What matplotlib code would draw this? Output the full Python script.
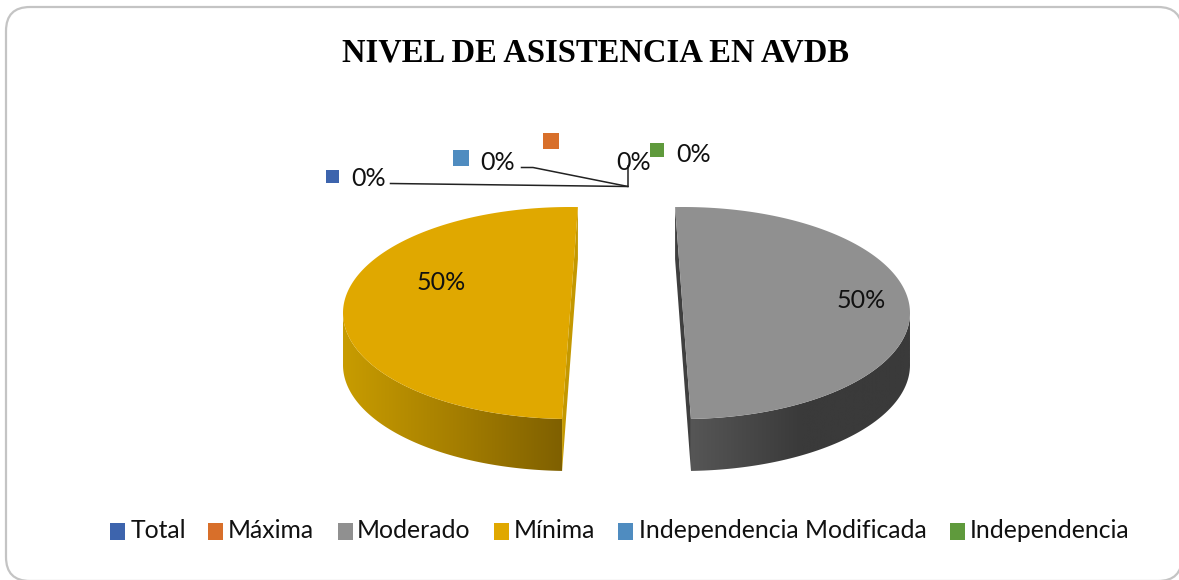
import matplotlib
matplotlib.use('Agg')
import matplotlib.pyplot as plt
import numpy as np
from matplotlib.colors import LinearSegmentedColormap
from matplotlib.patches import FancyBboxPatch, Polygon, Rectangle

title = 'NIVEL DE ASISTENCIA EN AVDB'
categories = ['Total', 'Máxima', 'Moderado', 'Mínima', 'Independencia Modificada', 'Independencia']
values = [0, 0, 50, 50, 0, 0]
colors = ['#3d64ad', '#d86f2a', '#909090', '#e0a800', '#4f8cc0', '#5f9a3c']

# wall shading per slice, left to right
wall_shades = {'Moderado': ['#565656', '#3a3a3a', '#3a3a3a'], 'Mínima': ['#c89c00', '#a67f00', '#7f6000']}
cut_colors = {'Moderado': '#3f3f3f', 'Mínima': '#c49800'}
# the exploded slices lean away from each other a little
lean = {'Moderado': -2, 'Mínima': 2}

# layout in reference pixels
legend_keys = [110, 208, 338, 494, 618, 950]
legend_texts = [131, 228, 357, 514, 639, 970]
zero_keys = {'Total': (332, 176, 13), 'Independencia Modificada': (461, 158, 16),
             'Máxima': (551, 141, 16), 'Independencia': (657, 150, 14)}
zero_labels = {'Total': (369, 178), 'Independencia Modificada': (498, 162),
               'Máxima': (634, 162), 'Independencia': (694, 154)}
big_labels = {'Moderado': (861, 301), 'Mínima': (441, 283)}
big_keys = {'Moderado': (818, 298), 'Mínima': (397, 282)}

cx, cy = 626.5, 313
a, b = 227, 106
depth = 52
explode = 56.5

fig = plt.figure(figsize=(11.79, 5.8), dpi=100)
ax = fig.add_axes([0, 0, 1, 1])
ax.axis('off')

frame = FancyBboxPatch((6, 7), 1176, 574, boxstyle='round,pad=0,rounding_size=24',
                       fc='white', ec='#c4c4c4', lw=1.6, zorder=0)
ax.add_patch(frame)

ax.text(596, 53, title, family='Liberation Serif', weight='bold', fontsize=23.5,
        ha='center', va='center', color='black')

# pie slices from the values
total = sum(values)
angle = 0
for name, val, col in zip(categories, values, colors):
    sweep = 360 * val / total
    if val == 0:
        angle += sweep
        continue
    t0, t1 = angle + lean[name], angle + sweep + lean[name]
    mid = np.radians(angle + sweep / 2)
    angle += sweep
    ox = cx + explode * np.sin(mid)
    oy = cy - explode * b / a * np.cos(mid)
    t = np.radians(np.linspace(t0, t1, 200))
    rx = ox + a * np.sin(t)
    ry = oy - b * np.cos(t)

    # outer wall, only the front part of the rim
    front = np.cos(t) <= 0.02
    wall = np.vstack([np.column_stack([rx[front], ry[front]]),
                      np.column_stack([rx[front], ry[front] + depth])[::-1]])
    clip = Polygon(wall, closed=True, fc='none', ec='none', transform=ax.transData)
    ax.add_patch(clip)
    cmap = LinearSegmentedColormap.from_list(name, wall_shades[name])
    im = ax.imshow(np.linspace(0, 1, 256).reshape(1, -1), cmap=cmap, aspect='auto',
                   extent=(wall[:, 0].min(), wall[:, 0].max(), 480, 300), zorder=2)
    im.set_clip_path(clip)

    # cut face seen through the gap
    p0 = (rx[0], ry[0]) if name == 'Moderado' else (rx[-1], ry[-1])
    p1 = (rx[-1], ry[-1]) if name == 'Moderado' else (rx[0], ry[0])
    ax.add_patch(Polygon([p0, p1, (p1[0], p1[1] + depth), (p0[0], p0[1] + depth)],
                         closed=True, fc=cut_colors[name], ec='none', zorder=2))

    # top face
    ax.add_patch(Polygon(np.column_stack([rx, ry]), closed=True, fc=col, ec='none', zorder=3))

# leader lines
ax.plot([390.5, 628, 628], [183.5, 186.5, 166], color='#222222', lw=1.1, zorder=4)
ax.plot([521.5, 533, 628], [167.5, 167.5, 186.5], color='#222222', lw=1.1, zorder=4)

# data labels
label_font = dict(family='Lato', fontsize=18, ha='center', va='center', color='#111111', zorder=6)
for name, val, col in zip(categories, values, colors):
    text = '%d%%' % round(100 * val / total)
    if name in zero_keys:
        x, y, s = zero_keys[name]
        ax.add_patch(Rectangle((x - s / 2, y - s / 2), s, s, fc=col, ec='none', zorder=5))
        ax.text(*zero_labels[name], text, **label_font)
    else:
        x, y = big_keys[name]
        ax.add_patch(Rectangle((x - 7, y - 7), 14, 14, fc=col, ec='none', alpha=0.85, zorder=5))
        ax.text(*big_labels[name], text, **label_font)

# legend
for name, col, kx, tx in zip(categories, colors, legend_keys, legend_texts):
    ax.add_patch(Rectangle((kx, 522.5), 15, 17, fc=col, ec='none', zorder=5))
    ax.text(tx, 531, name, family='Lato', fontsize=17.8, ha='left', va='center', color='#111111')

ax.set_xlim(0, 1179)
ax.set_ylim(580, 0)
fig.savefig('out.png', dpi=100)
